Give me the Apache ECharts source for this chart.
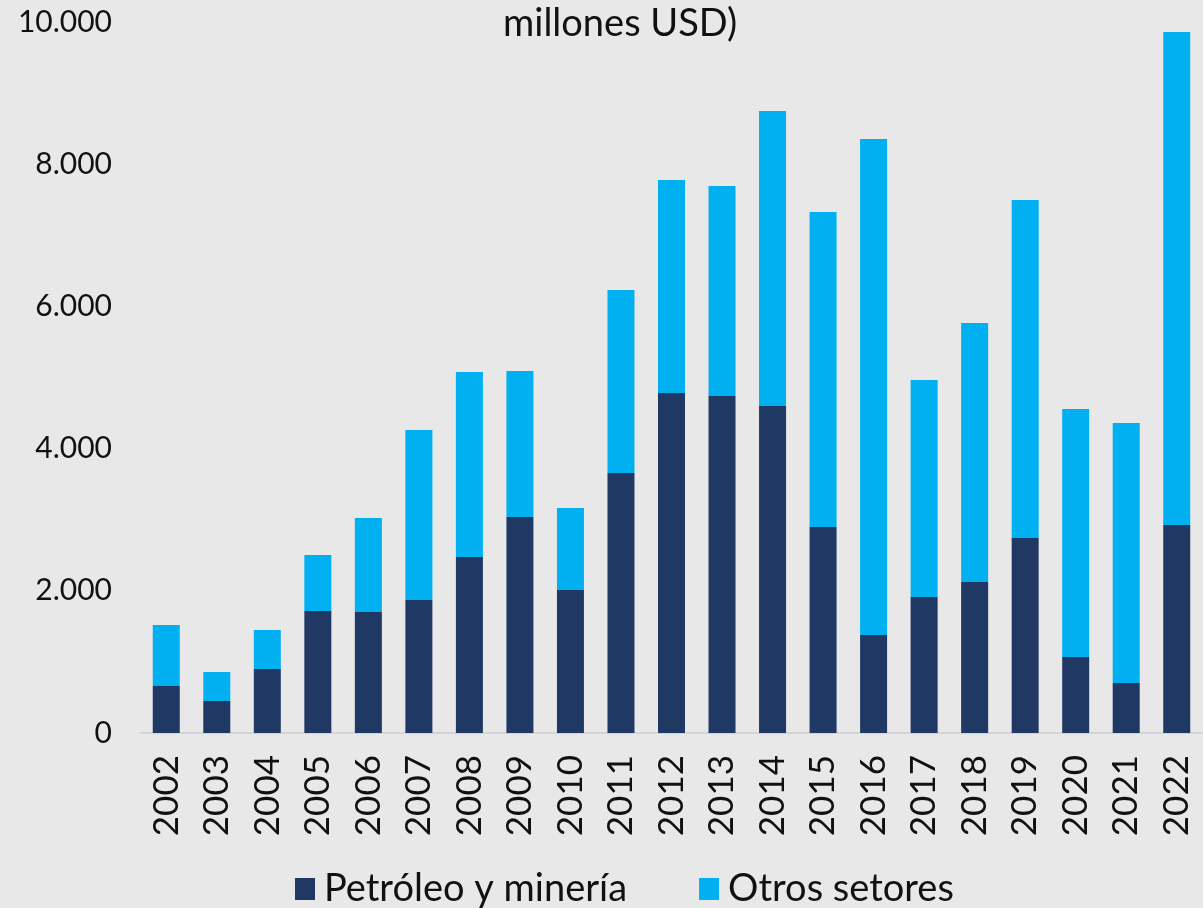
<!DOCTYPE html>
<html>
<head>
<meta charset="utf-8">
<script src="https://cdn.jsdelivr.net/npm/echarts@6/dist/echarts.min.js"></script>
<style>
  html, body { margin: 0; padding: 0; background: #e8e8e8; }
  #chart { width: 1203px; height: 908px; }
</style>
</head>
<body>
<div id="chart"></div>
<script>
// ---- datos (millones USD) ----
var years = ['2002','2003','2004','2005','2006','2007','2008','2009','2010','2011',
             '2012','2013','2014','2015','2016','2017','2018','2019','2020','2021','2022'];
var petroleoMineria = [661, 450, 900, 1716, 1702, 1871, 2475, 3038, 2011, 3657,
                       4782, 4740, 4599, 2897, 1378, 1913, 2124, 2743, 1069, 703, 2925];
var otrosSetores = [858, 408, 549, 787, 1322, 2391, 2602, 2053, 1154, 2574,
                    2996, 2953, 4149, 4431, 6976, 3052, 3643, 4753, 3488, 3657, 6934];
var yTicks = [0, 2000, 4000, 6000, 8000, 10000];

var FONT = 'Lato, "Noto Sans", sans-serif';

function fmtMiles(v) {
  return String(v).replace(/\B(?=(\d{3})+(?!\d))/g, '.');
}

var chart = echarts.init(document.getElementById('chart'));
var option = {
  backgroundColor: '#e8e8e8',
  animation: false,
  title: {
    text: 'millones USD)',
    left: 498,
    top: 0,
    textStyle: { fontFamily: FONT, fontSize: 38, fontWeight: 'normal', color: '#111' }
  },
  legend: {
    left: 290,
    top: 865,
    itemWidth: 20,
    itemHeight: 22,
    itemGap: 72,
    icon: 'rect',
    textStyle: { fontFamily: FONT, fontSize: 38, color: '#111', padding: [0, 0, 0, 4] },
    data: ['Petróleo y minería', 'Otros setores']
  },
  grid: { left: 141, right: 1, top: 22, bottom: 175 },
  xAxis: {
    type: 'category',
    data: years,
    axisTick: { show: false },
    axisLine: { lineStyle: { color: '#d4d4d4', width: 2 } },
    axisLabel: {
      rotate: 90,
      margin: 22,
      fontFamily: FONT,
      fontSize: 35,
      color: '#111'
    }
  },
  yAxis: {
    type: 'value',
    min: yTicks[0],
    max: yTicks[yTicks.length - 1],
    interval: yTicks[1] - yTicks[0],
    splitLine: { show: false },
    axisLine: { show: false },
    axisTick: { show: false },
    axisLabel: {
      margin: 29,
      fontFamily: FONT,
      fontSize: 30,
      color: '#111',
      formatter: fmtMiles
    }
  },
  series: [
    {
      name: 'Petróleo y minería',
      type: 'bar',
      stack: 'total',
      barWidth: 27,
      itemStyle: { color: '#203864' },
      data: petroleoMineria
    },
    {
      name: 'Otros setores',
      type: 'bar',
      stack: 'total',
      barWidth: 27,
      itemStyle: { color: '#00b0f0' },
      data: otrosSetores
    }
  ]
};
chart.setOption(option);
</script>
</body>
</html>
